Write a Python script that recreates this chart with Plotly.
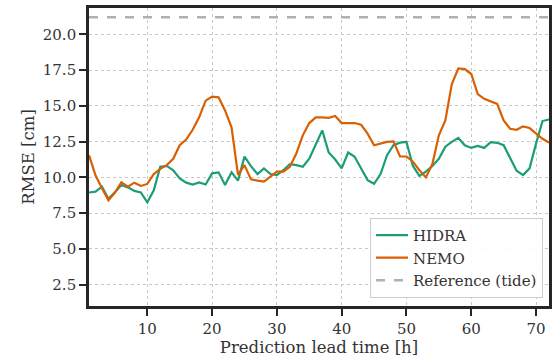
import plotly.graph_objects as go

hours = list(range(1, 73))

hidra = [8.94, 9.0, 9.35, 8.5, 8.95, 9.47, 9.3, 9.05, 8.95, 8.25,
         9.1, 10.74, 10.8, 10.5, 9.93, 9.63, 9.5, 9.65, 9.5, 10.28,
         10.35, 9.47, 10.35, 9.77, 11.46, 10.79, 10.23, 10.63, 10.23, 10.16,
         10.5, 10.93, 10.86, 10.74, 11.3, 12.3, 13.29, 11.74, 11.25, 10.63,
         11.74, 11.44, 10.63, 9.81, 9.55, 10.23, 11.55, 12.25, 12.43, 12.48,
         10.8, 10.1, 10.4, 10.79, 11.3, 12.15, 12.48, 12.76, 12.25, 12.06,
         12.2, 12.06, 12.46, 12.42, 12.25, 11.32, 10.46, 10.16, 10.63, 12.36,
         13.94, 14.05]

nemo = [11.55, 10.15, 9.24, 8.4, 8.94, 9.65, 9.35, 9.63, 9.4, 9.54,
        10.23, 10.6, 10.86, 11.3, 12.25, 12.64, 13.33, 14.2, 15.37, 15.65,
        15.6, 14.68, 13.5, 10.18, 10.86, 9.86, 9.77, 9.7, 10.05, 10.4,
        10.4, 10.74, 11.67, 12.94, 13.8, 14.2, 14.2, 14.17, 14.3, 13.8,
        13.8, 13.8, 13.68, 13.06, 12.25, 12.36, 12.48, 12.52, 11.46, 11.46,
        11.1, 10.5, 10.0, 10.93, 12.94, 13.98, 16.53, 17.62, 17.58, 17.23,
        15.83, 15.49, 15.3, 15.14, 13.98, 13.4, 13.33, 13.57, 13.45, 13.1,
        12.7, 12.43]

ref_value = 21.2

x_ticks = [10, 20, 30, 40, 50, 60, 70]
y_ticks = [2.5, 5.0, 7.5, 10.0, 12.5, 15.0, 17.5, 20.0]
y_tick_labels = ["2.5", "5.0", "7.5", "10.0", "12.5", "15.0", "17.5", "20.0"]

FONT = "DejaVu Serif"
TXT = "#333333"
SPINE = "#262626"

fig = go.Figure()
fig.add_trace(go.Scatter(x=hours, y=hidra, mode="lines", name="HIDRA",
                         line=dict(color="#1b9e77", width=2.2)))
fig.add_trace(go.Scatter(x=hours, y=nemo, mode="lines", name="NEMO",
                         line=dict(color="#d95f02", width=2.2)))
fig.add_trace(go.Scatter(x=[hours[0], hours[-1]], y=[ref_value, ref_value], mode="lines",
                         name="Reference (tide)",
                         line=dict(color="#b0b0b0", width=2.5, dash="dash")))

axis_common = dict(
    showline=True, linecolor=SPINE, linewidth=2.6, mirror=True,
    ticks="outside", ticklen=7, tickwidth=2.4, tickcolor=SPINE,
    showgrid=True, gridcolor="#c8c8c8", gridwidth=1, griddash="dot",
    zeroline=False,
    tickfont=dict(family=FONT, size=15, color=TXT),
)

fig.update_xaxes(range=[1, 72], tickmode="array", tickvals=x_ticks,
                 title=dict(text="Prediction lead time [h]",
                            font=dict(family=FONT, size=16.5, color=TXT), standoff=3),
                 **axis_common)
fig.update_yaxes(range=[1.0, 21.85], tickmode="array", tickvals=y_ticks,
                 ticktext=y_tick_labels,
                 title=dict(text="RMSE [cm]",
                            font=dict(family=FONT, size=16.5, color=TXT), standoff=5),
                 **axis_common)

fig.update_layout(
    width=557, height=358,
    margin=dict(l=89, r=6, t=5, b=52),
    plot_bgcolor="white", paper_bgcolor="white",
    font=dict(family=FONT, size=15, color=TXT),
    showlegend=True,
    legend=dict(x=0.987, y=0.027, xanchor="right", yanchor="bottom",
                bgcolor="rgba(255,255,255,0.9)", bordercolor="#cccccc", borderwidth=1,
                font=dict(family=FONT, size=15, color=TXT),
                itemwidth=32, tracegroupgap=0),
)

fig.write_html("out.html")
